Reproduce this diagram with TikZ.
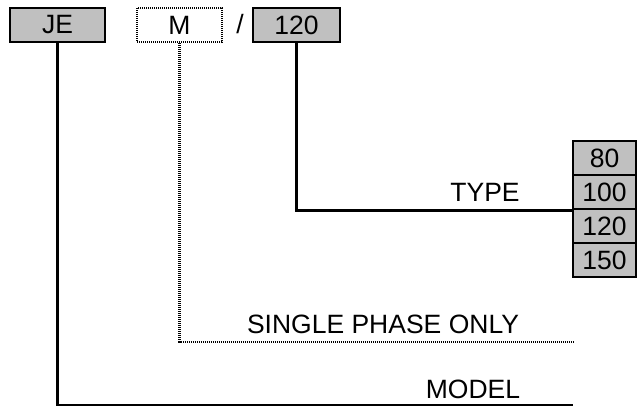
\documentclass[tikz,border=0pt]{standalone}
\usepackage{fontspec}
\setmainfont{Liberation Sans}
\definecolor{boxgray}{RGB}{192,192,192}
\tikzset{
  codebox/.style={draw, line width=2.5pt, fill=boxgray, minimum height=34pt, inner sep=0pt, font=\fontsize{26.5}{26.5}\selectfont},
  optbox/.style={codebox, fill=white, dash pattern=on 1pt off 1pt},
  typebox/.style={codebox, minimum width=63pt},
  leader/.style={line width=2.5pt},
  optleader/.style={leader, dash pattern=on 1pt off 1pt},
  caption/.style={font=\fontsize{26.5}{26.5}\selectfont}
}

\begin{document}
\begin{tikzpicture}[x=1pt, y=-1pt]
			%%%%% START %%%%%
			\useasboundingbox (0, 0) rectangle (637, 408);
			
			\node[codebox, minimum width=95pt] (je) at (57.5, 25) {JE};
			\node[optbox, minimum width=85pt] (m) at (179.5, 25) {M};
			\node[caption] (slash) at (240, 24) {/};
			\node[codebox, minimum width=87pt] (code) at (296.5, 25) {120};
			
			\node[typebox] (t80) at (604.5, 158) {80};
			\node[typebox] (t100) at (604.5, 192) {100};
			\node[typebox] (t120) at (604.5, 226) {120};
			\node[typebox] (t150) at (604.5, 260) {150};
			
			\coordinate (phase end) at (573, 342);
			\coordinate (model end) at (573, 405);
			
			\draw[leader] (code.south) |- (t100.south west);
			\draw[optleader] (m.south) |- (phase end);
			\draw[leader] (je.south) |- (model end);
			
			\node[caption] (type) at (485, 192) {TYPE};
			\node[caption] (phase) at (383, 324) {SINGLE PHASE ONLY};
			\node[caption] (model) at (473, 389) {MODEL};
			
			%%%%% END %%%%%
		\end{tikzpicture}
\end{document}
